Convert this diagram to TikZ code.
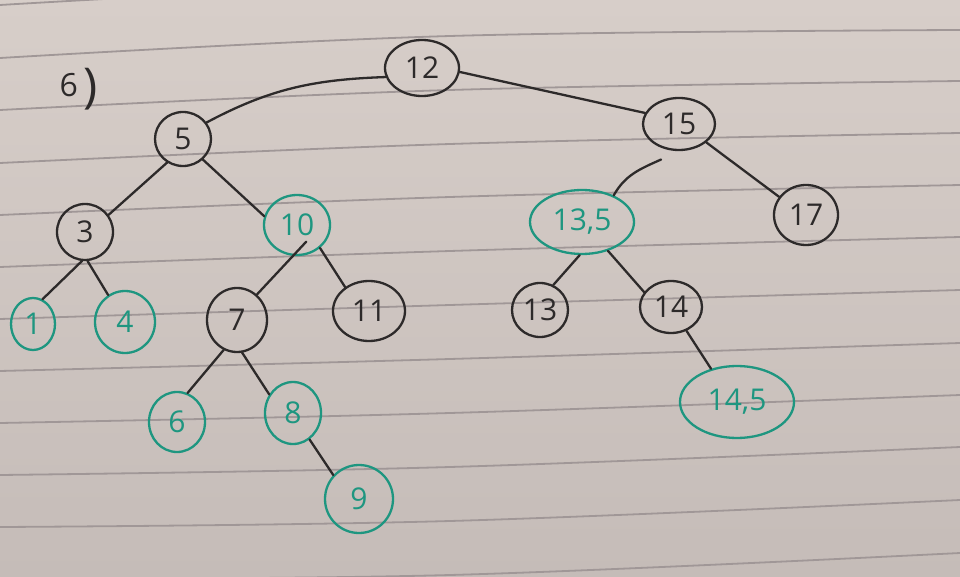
\documentclass[tikz,border=0pt]{standalone}
\usepackage{fontspec}
\setmainfont{Open Sans}
\usetikzlibrary{shapes.geometric,calc}

\definecolor{papertop}{RGB}{215,206,201}
\definecolor{paperbottom}{RGB}{197,188,184}
\definecolor{rulecol}{RGB}{160,151,151}
\definecolor{inkcol}{RGB}{45,42,42}
\definecolor{greenink}{RGB}{30,150,128}

\tikzset{
  vert/.style={ellipse, draw=inkcol, line width=2.3pt, inner sep=0pt,
               text=inkcol, font=\fontsize{30}{30}\selectfont},
  gvert/.style={vert, draw=greenink, text=greenink},
  edge/.style={draw=inkcol, line width=2.3pt, line cap=round},
  ruling/.style={draw=rulecol, line width=1.8pt},
}

\begin{document}
\begin{tikzpicture}[x=1pt, y=1pt]
  % sheet of paper
  \shade[top color=papertop, bottom color=paperbottom] (0,0) rectangle (960,-577);
  \useasboundingbox (0,0) rectangle (960,-577);

  % ruled lines (left, middle, right heights)
  \begin{scope}
    \clip (0,0) rectangle (960,-577);
    \foreach \yl/\ym/\yr in {5/-17/-22, 58/36/30, 110/90/81, 163/144/133,
        215/197/185, 267/251/237, 319/305/290, 371/359/343, 423/413/395,
        475/467/447, 527/521/500, 579/575/553}
      \draw[ruling] plot[smooth, tension=0.6] coordinates
        {(0,-\yl) (450,-\ym) (960,-\yr)};
  \end{scope}

  % exercise number
  \node[text=inkcol, anchor=base west] (num) at (56,-97)
    {\fontsize{32}{32}\selectfont 6\hspace{6pt}\raisebox{-6pt}{\fontsize{48}{48}\selectfont )}};

  % tree nodes
  \node[vert,  minimum width=74pt,  minimum height=56pt] (n12)  at (422,-68)  {12};
  \node[vert,  minimum width=56pt,  minimum height=54pt] (n5)   at (183,-139) {5};
  \node[vert,  minimum width=72pt,  minimum height=52pt] (n15)  at (679,-124) {15};
  \node[vert,  minimum width=56pt,  minimum height=56pt] (n3)   at (85,-232)  {3};
  \node[gvert, minimum width=66pt,  minimum height=60pt] (n10)  at (297,-225) {10};
  \node[gvert, minimum width=104pt, minimum height=64pt] (n135) at (582,-222) {13,5};
  \node[vert,  minimum width=64pt,  minimum height=60pt] (n17)  at (806,-215) {17};
  \node[gvert, minimum width=44pt,  minimum height=52pt] (n1)   at (33,-324)  {1};
  \node[gvert, minimum width=60pt,  minimum height=62pt] (n4)   at (125,-322) {4};
  \node[vert,  minimum width=60pt,  minimum height=64pt] (n7)   at (237,-320) {7};
  \node[vert,  minimum width=72pt,  minimum height=60pt] (n11)  at (369,-311) {11};
  \node[vert,  minimum width=56pt,  minimum height=54pt] (n13)  at (540,-310) {13};
  \node[vert,  minimum width=62pt,  minimum height=52pt] (n14)  at (671,-307) {14};
  \node[gvert, minimum width=56pt,  minimum height=60pt] (n6)   at (177,-422) {6};
  \node[gvert, minimum width=56pt,  minimum height=62pt] (n8)   at (293,-413) {8};
  \node[gvert, minimum width=114pt, minimum height=72pt] (n145) at (737,-402) {14,5};
  \node[gvert, minimum width=68pt,  minimum height=68pt] (n9)   at (359,-499) {9};

  % connectors
  \draw[edge] (n12.194) to[out=182, in=28] (n5.35);
  \draw[edge] (n12.354) -- (n15.162);
  \draw[edge] (n5.236) -- (n3.36);
  \draw[edge] (n5.314) -- (n10.165);
  \draw[edge] (n3.264) -- (n1.69);
  \draw[edge] (n3.275) -- (n4.122);
  \draw[edge] ($(n10)!0.6!(n10.299)$) -- (n7.52);
  \draw[edge] (n10.315) -- (n11.135);
  \draw[edge] (n7.246) -- (n6.70);
  \draw[edge] (n7.279) -- (n8.142);
  \draw[edge] (n8.302) -- (n9.137);
  \draw[edge] ($(n15.237)+(-2,-11)$) to[out=204, in=61] (n135.40);
  \draw[edge] (n15.326) -- (n17.146);
  \draw[edge] (n135.266) -- (n13.62);
  \draw[edge] (n135.312) -- (n14.151);
  \draw[edge] (n14.303) -- (n145.128);
\end{tikzpicture}
\end{document}
